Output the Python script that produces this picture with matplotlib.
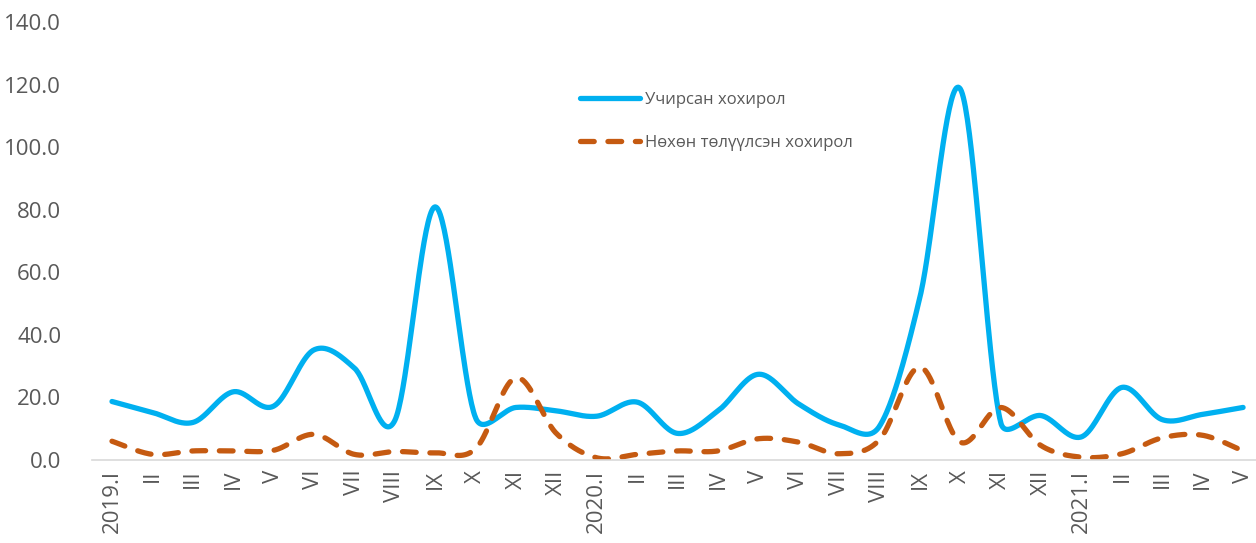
import numpy as np
import matplotlib
matplotlib.use("Agg")
import matplotlib.pyplot as plt

categories = ["2019.I", "II", "III", "IV", "V", "VI", "VII", "VIII", "IX", "X", "XI", "XII",
              "2020.I", "II", "III", "IV", "V", "VI", "VII", "VIII", "IX", "X", "XI", "XII",
              "2021.I", "II", "III", "IV", "V"]

incurred = [18.7, 15.2, 12.0, 21.8, 17.2, 35.2, 29.4, 12.6, 80.9, 13.5, 16.8, 15.7,
            14.0, 18.5, 8.5, 15.7, 27.4, 17.9, 11.2, 10.8, 52.0, 118.6, 12.0, 14.2,
            7.4, 23.2, 12.9, 14.6, 16.8]

recovered = [6.0, 1.8, 2.9, 2.9, 3.1, 8.2, 1.8, 2.7, 2.3, 3.6, 26.3, 8.5,
             0.7, 1.8, 2.9, 2.9, 6.8, 5.7, 2.0, 6.5, 29.7, 5.7, 16.8, 4.6,
             0.9, 2.0, 7.1, 7.9, 2.9]

series_names = ["Учирсан хохирол", "Нөхөн төлүүлсэн хохирол"]
yticks = [0, 20, 40, 60, 80, 100, 120, 140]

XPX = 40.4   # pixel per category step (for smoothing geometry)
YPX = 3.13   # pixel per value unit


def smooth(xs, ys, n=40):
    """Bezier smoothing like a spreadsheet 'smoothed line':
    control arm = tangent/6, capped at half of the segment length."""
    P = np.column_stack([np.asarray(xs, float) * XPX, np.asarray(ys, float) * YPX])
    m = len(P)
    out = []
    for i in range(m - 1):
        p0 = P[i - 1] if i > 0 else P[i]
        p1, p2 = P[i], P[i + 1]
        p3 = P[i + 2] if i + 2 < m else P[i + 1]
        L = np.linalg.norm(p2 - p1)
        d1 = p2 - p0
        d2 = p3 - p1
        n1 = np.linalg.norm(d1)
        n2 = np.linalg.norm(d2)
        a1 = min(n1 / 6.0, L / 2.0)
        a2 = min(n2 / 6.0, L / 2.0)
        c1 = p1 + (d1 / n1 * a1 if n1 > 0 else 0)
        c2 = p2 - (d2 / n2 * a2 if n2 > 0 else 0)
        t = np.linspace(0, 1, n, endpoint=(i == m - 2))[:, None]
        seg = ((1 - t) ** 3) * p1 + 3 * ((1 - t) ** 2) * t * c1 + 3 * (1 - t) * t ** 2 * c2 + t ** 3 * p2
        out.append(seg)
    arr = np.vstack(out)
    return arr[:, 0] / XPX, arr[:, 1] / YPX


plt.rcParams['font.family'] = ['Open Sans', 'DejaVu Sans']
W, H = 1256, 543
fig = plt.figure(figsize=(W / 100, H / 100), dpi=100)
left = 91.8 / W
bottom = 1 - 460 / H
top = 1 - 22 / H
ax = fig.add_axes([left, bottom, 1.0 - left, top - bottom])

x = np.arange(len(categories))
sx, sy = smooth(x, incurred)
ax.plot(sx, sy, color="#00B0F0", lw=3.8, solid_capstyle="round", label=series_names[0])
ox, oy = smooth(x, recovered)
ax.plot(ox, oy, color="#C55A11", lw=3.8, linestyle=(0, (2.6, 2.6)), dash_capstyle="round",
        label=series_names[1])

ax.set_xlim(-0.5, 28.32)
ax.set_ylim(0, 140)
ax.set_yticks(yticks)
ax.set_yticklabels([f"{v:.1f}" for v in yticks])
ax.set_xticks(x)
ax.set_xticklabels(categories, rotation=90, va="top", ha="center")

for s in ["top", "right", "left"]:
    ax.spines[s].set_visible(False)
ax.spines["bottom"].set_color("#D9D9D9")
ax.spines["bottom"].set_linewidth(1.2)
ax.tick_params(axis="both", length=0, colors="#595959", labelsize=16)
ax.tick_params(axis="y", pad=22)
ax.tick_params(axis="x", pad=7)
ax.set_facecolor("none")

leg = ax.legend(loc="upper left", bbox_to_anchor=(565 / W, 1 - 77 / H), bbox_transform=fig.transFigure,
                frameon=False, fontsize=12, labelcolor="#595959", handlelength=3.6,
                labelspacing=1.6, handletextpad=0.3)

fig.savefig("out.png", dpi=100)
